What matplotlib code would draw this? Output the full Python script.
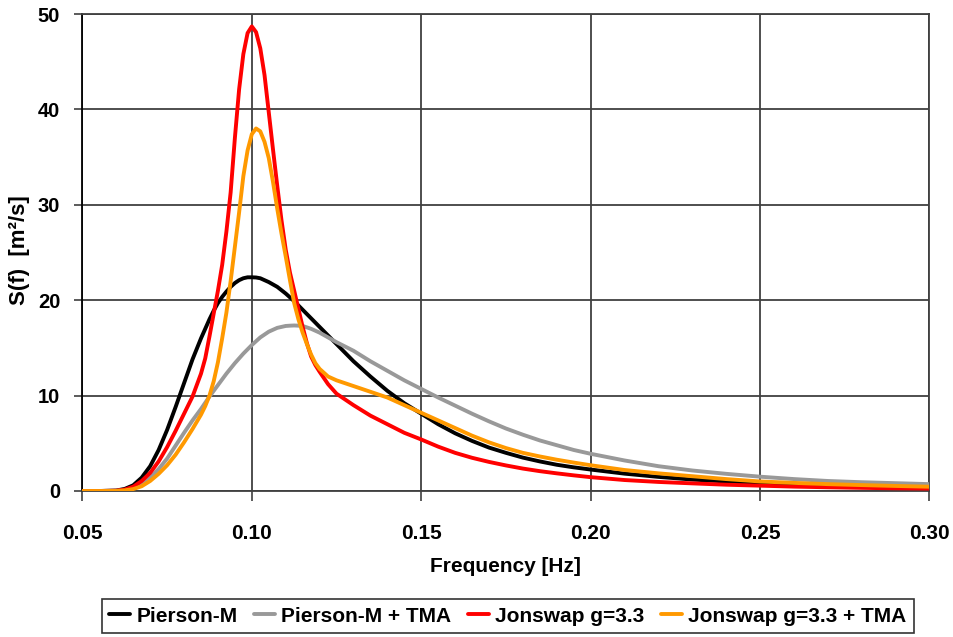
import matplotlib
matplotlib.use("Agg")
import matplotlib.pyplot as plt

plt.rcParams['font.family'] = ['Liberation Sans', 'DejaVu Sans']
plt.rcParams['font.weight'] = 'bold'

# Frequency grid [Hz]
freq = [0.050, 0.055, 0.060, 0.0625, 0.065, 0.0675, 0.070, 0.0725, 0.075, 0.0775,
        0.080, 0.0825, 0.085, 0.08625, 0.0875, 0.08875, 0.090, 0.09125, 0.0925, 0.09375,
        0.095, 0.09625, 0.0975, 0.09875, 0.100, 0.10125, 0.1025, 0.10375, 0.105, 0.10625,
        0.1075, 0.10875, 0.110, 0.11125, 0.1125, 0.11375, 0.115, 0.11625, 0.1175, 0.11875,
        0.120, 0.1225, 0.125, 0.1275, 0.130, 0.135, 0.140, 0.145, 0.150, 0.155,
        0.160, 0.165, 0.170, 0.175, 0.180, 0.185, 0.190, 0.195, 0.200, 0.210,
        0.220, 0.230, 0.240, 0.250, 0.260, 0.270, 0.280, 0.290, 0.300]

# Spectral density S(f) [m²/s]
pierson_m = [0.0, 0.0, 0.05, 0.22, 0.6, 1.4, 2.6, 4.3, 6.4, 8.8,
             11.3, 13.8, 16.0, 17.0, 18.0, 18.9, 19.7, 20.35, 20.9, 21.4,
             21.8, 22.1, 22.3, 22.4, 22.4, 22.38, 22.3, 22.1, 21.9, 21.65,
             21.4, 21.05, 20.7, 20.3, 19.9, 19.45, 19.0, 18.55, 18.1, 17.65,
             17.2, 16.3, 15.4, 14.5, 13.6, 12.0, 10.5, 9.2, 8.1, 7.0,
             6.05, 5.25, 4.55, 4.0, 3.5, 3.1, 2.75, 2.48, 2.25, 1.82,
             1.48, 1.2, 1.0, 0.82, 0.68, 0.57, 0.48, 0.41, 0.35]

pierson_m_tma = [0.0, 0.0, 0.02, 0.1, 0.3, 0.75, 1.4, 2.3, 3.4, 4.75,
                 6.1, 7.4, 8.6, 9.25, 9.9, 10.5, 11.1, 11.7, 12.3, 12.85,
                 13.4, 13.9, 14.4, 14.85, 15.3, 15.7, 16.1, 16.4, 16.7, 16.9,
                 17.1, 17.2, 17.3, 17.33, 17.35, 17.33, 17.3, 17.15, 17.0, 16.8,
                 16.6, 16.1, 15.6, 15.15, 14.7, 13.6, 12.6, 11.6, 10.7, 9.8,
                 8.95, 8.1, 7.3, 6.55, 5.9, 5.3, 4.8, 4.3, 3.9, 3.2,
                 2.6, 2.15, 1.8, 1.5, 1.25, 1.05, 0.92, 0.82, 0.72]

jonswap = [0.0, 0.0, 0.03, 0.15, 0.45, 1.05, 1.9, 3.1, 4.6, 6.3,
           8.1, 9.9, 12.3, 13.9, 16.2, 18.6, 21.0, 23.7, 27.2, 31.3,
           37.0, 42.1, 45.8, 48.0, 48.7, 48.1, 46.4, 43.6, 39.7, 35.8,
           32.0, 28.4, 25.3, 22.9, 21.0, 19.1, 17.2, 15.5, 14.1, 13.2,
           12.5, 11.2, 10.2, 9.6, 9.0, 7.9, 7.0, 6.1, 5.4, 4.65,
           4.0, 3.48, 3.05, 2.68, 2.35, 2.08, 1.85, 1.64, 1.45, 1.15,
           0.95, 0.8, 0.66, 0.56, 0.46, 0.39, 0.33, 0.28, 0.25]

jonswap_tma = [0.0, 0.0, 0.01, 0.07, 0.2, 0.5, 1.05, 1.8, 2.7, 3.8,
               5.1, 6.5, 8.0, 8.9, 10.0, 11.5, 13.5, 16.0, 18.7, 22.0,
               25.6, 29.2, 33.0, 35.7, 37.4, 38.0, 37.7, 36.6, 34.9, 32.4,
               29.6, 27.0, 24.6, 22.1, 19.7, 18.0, 16.6, 15.4, 14.3, 13.4,
               12.8, 12.0, 11.6, 11.3, 11.0, 10.4, 9.8, 9.0, 8.2, 7.4,
               6.6, 5.8, 5.1, 4.5, 4.0, 3.62, 3.28, 2.98, 2.7, 2.2,
               1.85, 1.55, 1.25, 1.0, 0.85, 0.72, 0.62, 0.53, 0.45]

series_labels = ["Pierson-M", "Pierson-M + TMA", "Jonswap g=3.3", "Jonswap g=3.3 + TMA"]
series_colors = ["#000000", "#999999", "#FF0000", "#FF9900"]

x_ticks = [0.05, 0.10, 0.15, 0.20, 0.25, 0.30]
y_ticks = [0, 10, 20, 30, 40, 50]

fig = plt.figure(figsize=(9.54, 6.37), dpi=100)
ax = fig.add_axes([82.4 / 954, 1 - 491 / 637, (929.5 - 82.4) / 954, (491 - 14) / 637])

grid_color = "#404040"
ax.set_xlim(0.05, 0.30)
ax.set_ylim(0, 50)
ax.set_xticks(x_ticks)
ax.set_yticks(y_ticks)
ax.set_xticklabels([f"{t:.2f}" for t in x_ticks], fontsize=15, fontweight='bold')
ax.set_yticklabels([str(t) for t in y_ticks], fontsize=14.5, fontweight='bold')
ax.grid(True, color=grid_color, linewidth=1.3, zorder=0)
ax.set_axisbelow(True)
ax.tick_params(axis='x', direction='out', length=7, width=1.2, color=grid_color, pad=17)
ax.tick_params(axis='y', direction='out', length=6, width=1.2, color=grid_color, pad=10)
for side in ['top', 'right', 'bottom']:
    ax.spines[side].set_color(grid_color)
    ax.spines[side].set_linewidth(1.3)
ax.spines['left'].set_color('#000000')
ax.spines['left'].set_linewidth(1.3)

for values, label, color in zip([pierson_m, pierson_m_tma, jonswap, jonswap_tma],
                                series_labels, series_colors):
    ax.plot(freq, values, color=color, linewidth=2.8, label=label,
            solid_joinstyle='round', solid_capstyle='round', zorder=3)

fig.text(505 / 954, 1 - 567 / 637, "Frequency [Hz]", ha='center', va='center',
         fontsize=15, fontweight='bold')
fig.text(20 / 954, 1 - 250 / 637, "S(f)  [m²/s]", ha='center', va='center',
         rotation=90, fontsize=16, fontweight='bold')

leg = fig.legend(loc='center', bbox_to_anchor=(508 / 954, 1 - 616 / 637), ncol=4,
                 frameon=True, fancybox=False, shadow=False, edgecolor='#000000',
                 prop={'size': 15, 'weight': 'bold'}, handlelength=1.0,
                 handletextpad=0.3, columnspacing=0.8, borderpad=0.35,
                 borderaxespad=0.0)
leg.get_frame().set_linewidth(1.2)

fig.savefig("out.png", dpi=100)
